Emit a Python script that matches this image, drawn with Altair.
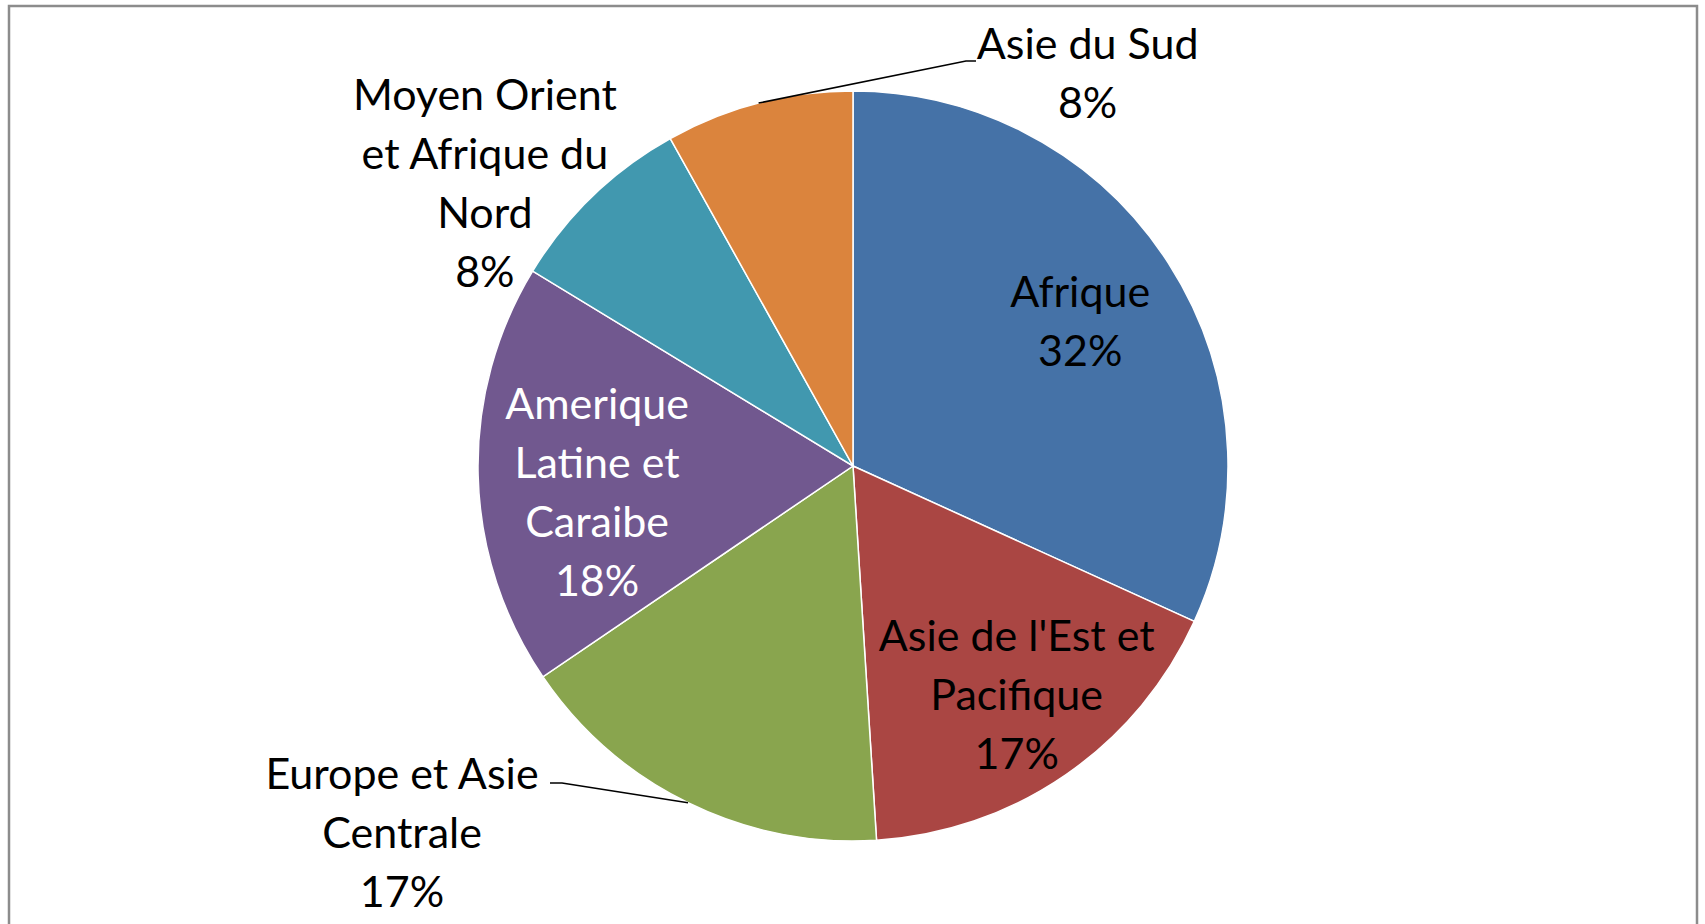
import math
import altair as alt
import pandas as pd

# ---- data ----
regions = [
    "Afrique",
    "Asie de l'Est et Pacifique",
    "Europe et Asie Centrale",
    "Amerique Latine et Caraibe",
    "Moyen Orient et Afrique du Nord",
    "Asie du Sud",
]
shares = [31.8, 17.2, 16.5, 18.2, 8.2, 8.1]
pct_labels = ["32%", "17%", "17%", "18%", "8%", "8%"]
label_lines = [
    ["Afrique"],
    ["Asie de l'Est et", "Pacifique"],
    ["Europe et Asie", "Centrale"],
    ["Amerique", "Latine et", "Caraibe"],
    ["Moyen Orient", "et Afrique du", "Nord"],
    ["Asie du Sud"],
]
colors = ["#4572A7", "#AA4643", "#89A54E", "#71588F", "#4198AF", "#DB843D"]

# ---- layout ----
W, H = 1705, 924
CX, CY, R = 853, 466, 375
FONT = "Lato"
FS = 43
LH = 59
# (radius, dx, dy, colour) per label: offsets of the text block centre
label_layout = [
    (269, 1, 3, "black"),
    (285, 2, -4, "black"),
    (R, -286, 32, "black"),
    (257, 1, 22, "white"),
    (R, -108, -10, "black"),
    (R, 329, -28, "black"),
]

df = pd.DataFrame({
    "region": regions,
    "share": shares,
    "order": list(range(len(regions))),
    "label": ["\n".join(l + [p]) for l, p in zip(label_lines, pct_labels)],
})

base = alt.Chart(df).encode(
    theta=alt.Theta("share:Q", stack=True),
    order=alt.Order("order:Q", sort="ascending"),
    x=alt.value(CX),
    y=alt.value(CY),
)

pie = base.mark_arc(radius=R, stroke="white", strokeWidth=1.5).encode(
    color=alt.Color("region:N", scale=alt.Scale(domain=regions, range=colors), legend=None)
)

texts = []
for i, (r, dx, dy, col) in enumerate(label_layout):
    n = len(label_lines[i]) + 1
    texts.append(
        base.mark_text(
            radius=r, dx=dx, dy=dy - (n - 1) * LH / 2, color=col, font=FONT, fontSize=FS,
            lineHeight=LH, lineBreak="\n", align="center", baseline="middle",
        ).encode(text=alt.condition(alt.datum.order == i, "label:N", alt.value("")))
    )

# leader lines: start on the slice edge at its mid-angle
total = sum(shares)
cum = 0
mids = []
for s in shares:
    mids.append((cum + s / 2) / total * 2 * math.pi)
    cum += s

def edge(i):
    a = mids[i]
    return CX + R * math.sin(a), CY - R * math.cos(a)

rows = []
sx, sy = edge(5)
for k, (x, y) in enumerate([(sx, sy), (966, 61), (976, 61)]):
    rows.append({"seg": "sud", "k": k, "x": x, "y": y})
sx, sy = edge(2)
for k, (x, y) in enumerate([(sx, sy), (562, 783), (550, 783)]):
    rows.append({"seg": "europe", "k": k, "x": x, "y": y})
lines_df = pd.DataFrame(rows)

leaders = alt.Chart(lines_df).mark_line(color="black", strokeWidth=1.5).encode(
    x=alt.X("x:Q", scale=None, axis=None),
    y=alt.Y("y:Q", scale=None, axis=None),
    detail="seg:N",
    order="k:Q",
)

frame = alt.Chart(alt.Data(values=[{"a": 1}])).mark_rect(
    filled=False, stroke="#8c8c8c", strokeWidth=2.5
).encode(
    x=alt.value(9), x2=alt.value(1697), y=alt.value(6), y2=alt.value(960)
)

chart = alt.layer(frame, pie, leaders, *texts).properties(
    width=W, height=H, padding=0,
    autosize=alt.AutoSizeParams(type="none"),
    background="white",
).configure_view(strokeWidth=0)

chart.save("out.html", embed_options={"renderer": "svg", "actions": False})
